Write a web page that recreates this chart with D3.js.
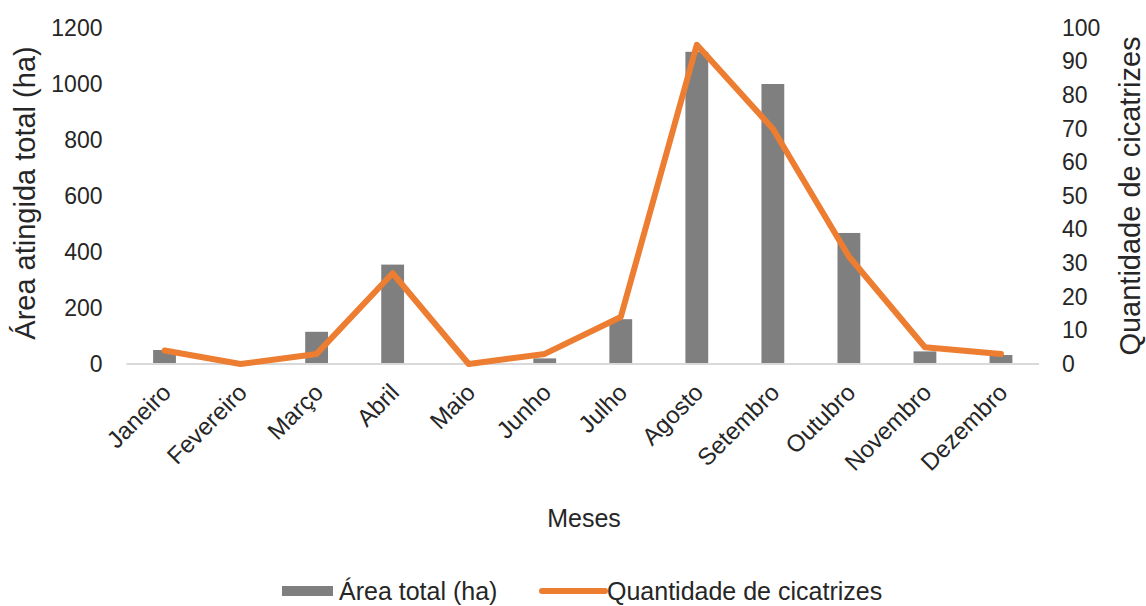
<!DOCTYPE html>
<html>
<head>
<meta charset="utf-8">
<script src="https://cdn.jsdelivr.net/npm/d3@7"></script>
<style>
  html, body { margin: 0; padding: 0; background: #fff; }
  svg { display: block; font-family: "Liberation Sans", Arial, sans-serif; }
</style>
</head>
<body>
<svg id="chart" width="1146" height="606"></svg>
<script>
// Monthly burn scars: total burned area (bars, left axis) and scar count (line, right axis)
const months = ["Janeiro", "Fevereiro", "Março", "Abril", "Maio", "Junho",
                "Julho", "Agosto", "Setembro", "Outubro", "Novembro", "Dezembro"];
const areaHa = [50, 0, 115, 355, 0, 20, 160, 1115, 1000, 468, 45, 32];
const scarCount = [4, 0, 3, 27, 0, 3, 14, 95, 70, 32, 5, 3];
const leftTicks = [0, 200, 400, 600, 800, 1000, 1200];
const rightTicks = [0, 10, 20, 30, 40, 50, 60, 70, 80, 90, 100];

const svg = d3.select("#chart");
const plot = { left: 126.5, right: 1039, top: 28, bottom: 364 };

const x = d3.scaleBand().domain(months).range([plot.left, plot.right]).paddingInner(0.70).paddingOuter(0.35);
const yL = d3.scaleLinear().domain([0, 1200]).range([plot.bottom, plot.top]);
const yR = d3.scaleLinear().domain([0, 100]).range([plot.bottom, plot.top]);

const barColor = "#7f7f7f";
const lineColor = "#ed7d31";
const textColor = "#262626";

// bars
svg.append("g").selectAll("rect").data(months).join("rect")
  .attr("x", d => x(d))
  .attr("width", x.bandwidth())
  .attr("y", (d, i) => yL(areaHa[i]))
  .attr("height", (d, i) => yL(0) - yL(areaHa[i]))
  .attr("fill", barColor);

// category axis baseline
svg.append("line")
  .attr("x1", plot.left).attr("x2", plot.right)
  .attr("y1", yL(0)).attr("y2", yL(0))
  .attr("stroke", "#d9d9d9").attr("stroke-width", 2);

// scar count line
const line = d3.line()
  .x((d, i) => x(months[i]) + x.bandwidth() / 2)
  .y(d => yR(d));
svg.append("path").datum(scarCount)
  .attr("d", line)
  .attr("fill", "none")
  .attr("stroke", lineColor)
  .attr("stroke-width", 6)
  .attr("stroke-linejoin", "round")
  .attr("stroke-linecap", "round");

// left axis
const axL = svg.append("g").attr("transform", `translate(${plot.left - 24},0)`)
  .call(d3.axisLeft(yL).tickValues(leftTicks).tickFormat(d3.format("d")).tickSize(0).tickPadding(0));
axL.select(".domain").remove();
axL.selectAll("text").attr("font-size", 23).attr("fill", textColor)
  .attr("font-family", "Liberation Sans, Arial, sans-serif");

// right axis
const axR = svg.append("g").attr("transform", `translate(${plot.right + 23},0)`)
  .call(d3.axisRight(yR).tickValues(rightTicks).tickFormat(d3.format("d")).tickSize(0).tickPadding(0));
axR.select(".domain").remove();
axR.selectAll("text").attr("font-size", 23).attr("fill", textColor)
  .attr("font-family", "Liberation Sans, Arial, sans-serif");

// month labels, rotated
svg.append("g").selectAll("text").data(months).join("text")
  .attr("transform", d => `translate(${x(d) + x.bandwidth() / 2 + 8},${plot.bottom + 30}) rotate(-45)`)
  .attr("text-anchor", "end")
  .attr("font-size", 24)
  .attr("fill", textColor)
  .text(d => d);

// axis titles
svg.append("text")
  .attr("transform", `translate(35,193) rotate(-90)`)
  .attr("text-anchor", "middle")
  .attr("font-size", 29)
  .attr("fill", textColor)
  .text("Área atingida total (ha)");

svg.append("text")
  .attr("transform", `translate(1140,196) rotate(-90)`)
  .attr("text-anchor", "middle")
  .attr("font-size", 29)
  .attr("fill", textColor)
  .text("Quantidade de cicatrizes");

svg.append("text")
  .attr("x", 584).attr("y", 527)
  .attr("text-anchor", "middle")
  .attr("font-size", 25)
  .attr("fill", textColor)
  .text("Meses");

// legend
const legend = svg.append("g");
legend.append("rect")
  .attr("x", 282).attr("y", 586).attr("width", 51).attr("height", 10)
  .attr("fill", barColor);
legend.append("text")
  .attr("x", 339).attr("y", 600)
  .attr("font-size", 25).attr("fill", textColor)
  .text("Área total (ha)");
legend.append("line")
  .attr("x1", 542).attr("x2", 605).attr("y1", 591).attr("y2", 591)
  .attr("stroke", lineColor).attr("stroke-width", 6).attr("stroke-linecap", "round");
legend.append("text")
  .attr("x", 607).attr("y", 600)
  .attr("font-size", 25).attr("fill", textColor)
  .text("Quantidade de cicatrizes");
</script>
</body>
</html>
